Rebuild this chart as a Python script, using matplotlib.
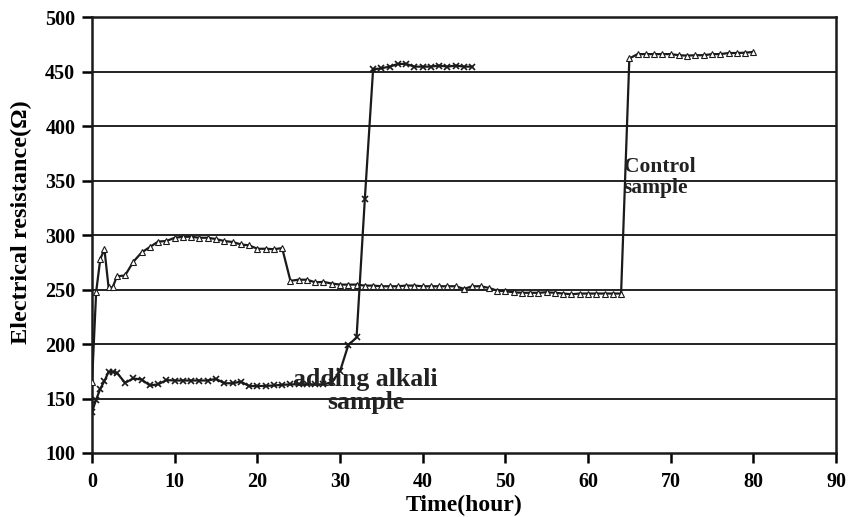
import matplotlib.pyplot as plt

# Control sample (triangles)
control_t = [0, 0.5, 1, 1.5, 2, 2.5, 3, 4, 5, 6, 7, 8, 9, 10, 11, 12, 13, 14, 15, 16,
             17, 18, 19, 20, 21, 22, 23, 24, 25, 26, 27, 28, 29, 30, 31, 32, 33, 34, 35,
             36, 37, 38, 39, 40, 41, 42, 43, 44, 45, 46, 47, 48, 49, 50, 51, 52, 53, 54,
             55, 56, 57, 58, 59, 60, 61, 62, 63, 64, 65, 66, 67, 68, 69, 70, 71, 72, 73,
             74, 75, 76, 77, 78, 79, 80]
control_r = [165, 248, 278, 287, 252, 252, 262, 263, 275.5, 284, 289, 294, 294.5, 297.5,
             298.4, 298.4, 297.5, 297.5, 296.3, 294.5, 293.6, 291.4, 290.5, 287.4, 287.4,
             287, 288, 258, 259, 259, 256.6, 257, 255.5, 254.5, 254.5, 254.5, 253.6, 253.6,
             253, 253, 253, 253.6, 253.6, 253, 253, 253, 253, 253, 250.6, 253, 253, 251.5,
             249, 248.4, 247.5, 247, 247, 247, 247.5, 247, 246.3, 245.7, 246.3, 246.3,
             246.3, 246.3, 246.3, 246.3, 462, 466, 466, 466, 466, 466, 465, 464.6,
             465, 465, 466, 466, 467, 467, 467.3, 468]

# Adding alkali sample (crosses)
alkali_t = [0, 0.5, 1, 1.5, 2, 2.5, 3, 4, 5, 6, 7, 8, 9, 10, 11, 12, 13, 14, 15, 16, 17,
            18, 19, 20, 21, 22, 23, 24, 25, 26, 27, 28, 29, 30, 31, 32, 33, 34, 35, 36,
            37, 38, 39, 40, 41, 42, 43, 44, 45, 46]
alkali_r = [138, 149, 159, 166, 174.5, 174.5, 173.6, 164.4, 168.4, 167.4, 162, 163, 166.9,
            166.5, 166.5, 166.5, 166.5, 166.5, 168, 164, 164, 165.5, 161.4, 161.5, 161.5,
            162, 162.5, 163, 163, 163, 163, 163, 165, 175, 199, 206, 333, 452, 453, 454.5,
            457, 457, 454.5, 454.5, 454.5, 455.5, 454.5, 455.5, 454.5, 454.5]

x_ticks = list(range(0, 91, 10))
y_ticks = list(range(100, 501, 50))

plt.rcParams['font.family'] = ['Liberation Serif', 'DejaVu Serif']
plt.rcParams['font.weight'] = 'bold'

fig = plt.figure(figsize=(8.49, 5.17), dpi=100)
ax = fig.add_axes([0.1084, 0.1238, 0.8763, 0.8432])

for y in y_ticks[1:]:
    ax.axhline(y, color='#222222', linewidth=1.4, zorder=1)

ax.plot(control_t, control_r, color='#1a1a1a', linewidth=1.6, marker='^', markersize=4,
        markerfacecolor='white', markeredgecolor='#1a1a1a', markeredgewidth=0.8, zorder=3)
ax.plot(alkali_t, alkali_r, color='#1a1a1a', linewidth=1.6, marker='x', markersize=4,
        markeredgewidth=1.2, zorder=3)

ax.set_xlim(0, 90)
ax.set_ylim(100, 500)
ax.set_xticks(x_ticks)
ax.set_yticks(y_ticks)
ax.tick_params(direction='out', length=7, width=1.8, labelsize=14.5)
ax.tick_params(axis='x', pad=7)
ax.tick_params(axis='y', pad=5)
for lab in ax.get_xticklabels() + ax.get_yticklabels():
    lab.set_fontweight('bold')
for s in ax.spines.values():
    s.set_linewidth(1.8)
    s.set_color('#1a1a1a')

ax.set_xlabel('Time(hour)', fontsize=17, fontweight='bold')
ax.set_ylabel('Electrical resistance(\u03a9)', fontsize=17.5, fontweight='bold')
ax.xaxis.set_label_coords(0.5, -0.095)
ax.yaxis.set_label_coords(-0.081, 0.53)

ax.text(33.1, 157, 'adding alkali\nsample', fontsize=18.5, fontweight='bold', ha='center',
        va='center', linespacing=1.0, color='#222222', zorder=4)
ax.text(64.3, 353, 'Control\nsample', fontsize=15.5, fontweight='bold', ha='left',
        va='center', linespacing=1.05, color='#222222', zorder=4)

fig.savefig('out.png', dpi=100)
